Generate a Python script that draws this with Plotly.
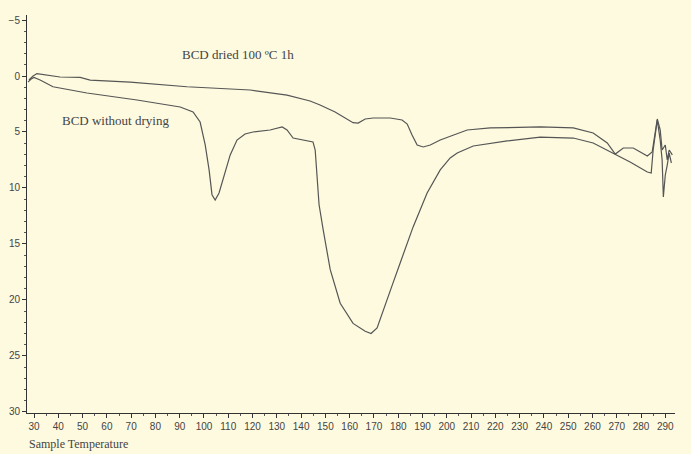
import plotly.graph_objects as go

# Series: BCD dried 100 ºC 1h (upper curve)
dried_T = [27.9, 29.6, 31.2, 34.5, 40.7, 49.0, 53.1, 69.6, 93.0, 119.0, 134.2, 143.7, 147.8,
           154.0, 158.1, 161.4, 163.5, 166.4, 169.7, 176.7, 181.6, 183.7, 185.7, 187.8, 190.3,
           193.2, 197.3, 203.5, 208.4, 217.9, 238.5, 252.1, 260.3, 266.1, 269.4, 272.7, 276.8,
           279.7, 282.6, 284.6, 285.9, 286.7, 287.9, 288.7, 290.0, 290.8, 291.6, 292.9]
dried_v = [0.36, 0.0, -0.22, -0.09, 0.09, 0.13, 0.36, 0.54, 0.96, 1.25, 1.70, 2.23, 2.59,
           3.21, 3.75, 4.17, 4.20, 3.84, 3.75, 3.75, 3.93, 4.29, 5.27, 6.16, 6.34,
           6.16, 5.72, 5.18, 4.82, 4.64, 4.55, 4.64, 5.09, 5.98, 6.97, 6.43, 6.43,
           6.79, 7.14, 6.79, 4.82, 3.84, 4.82, 6.61, 6.16, 7.50, 6.61, 7.05]

# Series: BCD without drying (lower curve)
wet_T = [27.5, 28.8, 30.0, 32.5, 37.8, 51.8, 72.4, 90.2, 95.5, 98.4, 100.5, 102.1, 103.3,
         104.6, 106.2, 108.3, 110.8, 113.6, 116.9, 120.2, 127.2, 132.2, 134.2, 136.7, 140.8,
         144.9, 145.8, 146.6, 147.4, 149.1, 152.0, 156.1, 161.4, 166.4, 168.8, 171.3, 173.8,
         177.5, 180.8, 186.1, 191.9, 197.3, 201.4, 204.3, 210.9, 224.9, 238.5, 252.1, 260.3,
         268.5, 275.5, 282.6, 284.2, 285.0, 286.3, 286.7, 287.9, 288.7, 289.2, 290.0, 290.8,
         291.6, 292.5]
wet_v = [0.54, 0.27, 0.13, 0.36, 0.96, 1.52, 2.14, 2.77, 3.21, 4.11, 6.16, 8.39, 10.6,
         11.07, 10.45, 8.84, 7.05, 5.72, 5.18, 5.0, 4.82, 4.55, 4.82, 5.54, 5.72,
         5.89, 6.61, 8.84, 11.5, 13.75, 17.3, 20.3, 22.1, 22.8, 23.0, 22.5, 20.9,
         18.7, 16.7, 13.5, 10.45, 8.39, 7.32, 6.88, 6.25, 5.80, 5.45, 5.54, 5.98,
         6.88, 7.68, 8.57, 8.66, 6.61, 4.38, 3.93, 5.72, 7.50, 10.8, 8.84, 7.95,
         6.88, 7.77]

x_ticks = list(range(30, 300, 10))
y_ticks = [-5, 0, 5, 10, 15, 20, 25, 30]

label_dried = "BCD dried 100 ºC 1h"
label_wet = "BCD without drying"
x_title = "Sample Temperature"

bg = "#FEFADF"
line_col = "#555555"

fig = go.Figure()
fig.add_trace(go.Scatter(x=dried_T, y=dried_v, mode="lines", name=label_dried,
                         line=dict(color=line_col, width=1.2), showlegend=False))
fig.add_trace(go.Scatter(x=wet_T, y=wet_v, mode="lines", name=label_wet,
                         line=dict(color=line_col, width=1.2), showlegend=False))

fig.add_annotation(x=114, y=-1.9, text=label_dried, showarrow=False,
                   font=dict(family="Liberation Serif", size=13, color="#444"))
fig.add_annotation(x=63.4, y=3.93, text=label_wet, showarrow=False,
                   font=dict(family="Liberation Serif", size=13, color="#444"))
fig.add_annotation(xref="paper", yref="paper", x=0.0, y=-0.078, xanchor="left", yanchor="middle",
                   text=x_title, showarrow=False,
                   font=dict(family="Liberation Serif", size=12, color="#444"))

fig.update_layout(
    width=691, height=454,
    margin=dict(l=27, r=16, t=15, b=41, autoexpand=False),
    paper_bgcolor=bg, plot_bgcolor=bg,
    font=dict(family="Liberation Sans", size=10, color="#444"),
)
fig.update_xaxes(range=[27.1, 294], tickvals=x_ticks, ticks="outside", ticklen=4,
                 tickcolor="#333", showline=True, linecolor="#333", linewidth=1,
                 showgrid=False, zeroline=False, automargin=False,
                 minor=dict(ticks="outside", ticklen=2, dtick=5, tickcolor="#555"))
fig.update_yaxes(range=[30.1, -5.45], tickvals=y_ticks, ticks="outside", ticklen=4,
                 tickcolor="#333", showline=True, linecolor="#333", linewidth=1,
                 showgrid=False, zeroline=False, automargin=False,
                 minor=dict(ticks="outside", ticklen=2, dtick=1, tickcolor="#555"))

fig.write_html("out.html", config={"displayModeBar": False},
               post_script="document.body.style.margin='0';document.body.style.background='%s';" % bg)
